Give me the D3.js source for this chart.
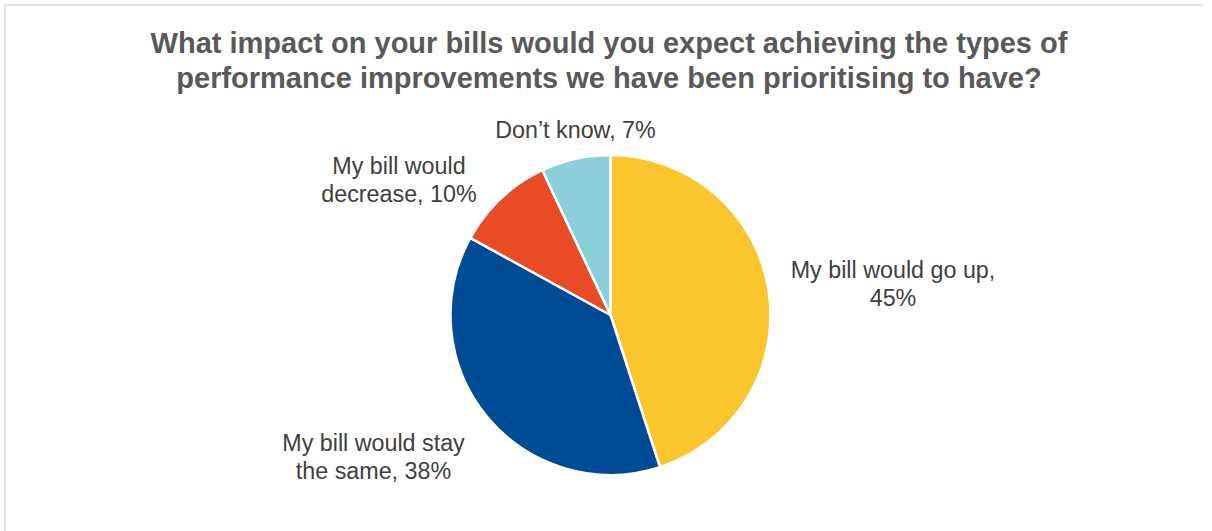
<!DOCTYPE html>
<html>
<head>
<meta charset="utf-8">
<script src="https://cdn.jsdelivr.net/npm/d3@7"></script>
<style>
  html, body { margin: 0; padding: 0; background: #fff; }
  svg { display: block; }
</style>
</head>
<body>
<svg id="chart" width="1212" height="531"></svg>
<script>
// Survey answers, in the order they run clockwise from 12 o'clock
const categories = ["My bill would go up", "My bill would stay the same", "My bill would decrease", "Don\u2019t know"];
const shares = [45, 38, 10, 7];
// Label text, split into lines as shown beside each slice
const labelLines = [
  ["My bill would go up,", "45%"],
  ["My bill would stay", "the same, 38%"],
  ["My bill would", "decrease, 10%"],
  ["Don\u2019t know, 7%"]
];
const titleLines = [
  "What impact on your bills would you expect achieving the types of",
  "performance improvements we have been prioritising to have?"
];

const palette = ["#FBC52E", "#004B96", "#E84B26", "#8ACFD9"];

const width = 1212, height = 531;
const cx = 610.5, cy = 315, radius = 160;

const svg = d3.select("#chart");

// Frame edges of the chart area
svg.append("line").attr("x1", 5).attr("y1", 5).attr("x2", 1202).attr("y2", 5)
  .attr("stroke", "#d9d9d9").attr("stroke-width", 1.5);
svg.append("line").attr("x1", 5).attr("y1", 5).attr("x2", 5).attr("y2", height)
  .attr("stroke", "#d9d9d9").attr("stroke-width", 1.5);

// Title
svg.append("text")
  .attr("x", 609).attr("y", 53)
  .attr("text-anchor", "middle")
  .attr("font-family", "Liberation Sans, Arial, sans-serif")
  .attr("font-weight", "bold")
  .attr("font-size", 29)
  .attr("fill", "#595959")
  .selectAll("tspan").data(titleLines).join("tspan")
  .attr("x", 609)
  .attr("dy", (d, i) => i === 0 ? 0 : 34.5)
  .text(d => d);

const color = d3.scaleOrdinal().domain(categories).range(palette);

const pie = d3.pie().sort(null).value(d => d.value).startAngle(0).endAngle(2 * Math.PI);
const arcs = pie(categories.map((c, i) => ({ name: c, value: shares[i], lines: labelLines[i] })));
const arc = d3.arc().innerRadius(0).outerRadius(radius);

const g = svg.append("g").attr("transform", `translate(${cx},${cy})`);

g.selectAll("path").data(arcs).join("path")
  .attr("d", arc)
  .attr("fill", d => color(d.data.name))
  .attr("stroke", "#fff")
  .attr("stroke-width", 2.5)
  .attr("stroke-linejoin", "round");

// Label anchors: centre x and first baseline of each label block
const labelPos = [
  { x: 893, y: 278 },
  { x: 373.5, y: 451 },
  { x: 399, y: 174 },
  { x: 575.5, y: 137.5 }
];

svg.append("g").selectAll("text").data(arcs).join("text")
  .attr("text-anchor", "middle")
  .attr("font-family", "Liberation Sans, Arial, sans-serif")
  .attr("font-size", 23.3)
  .attr("fill", "#404040")
  .attr("y", (d, i) => labelPos[i].y)
  .each(function (d, i) {
    d3.select(this).selectAll("tspan").data(d.data.lines).join("tspan")
      .attr("x", labelPos[i].x)
      .attr("dy", (t, j) => j === 0 ? 0 : 28.2)
      .text(t => t);
  });
</script>
</body>
</html>
